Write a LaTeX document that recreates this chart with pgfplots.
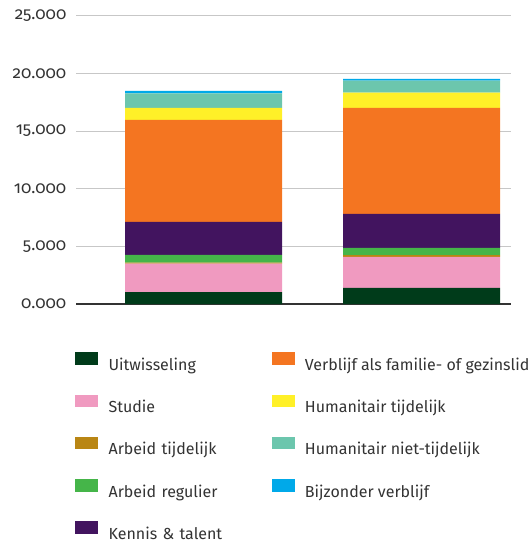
\documentclass[border=0pt]{standalone}
\usepackage{pgfplots}
\pgfplotsset{compat=1.18}
\usepackage{fontspec}
\setmainfont{Fira Sans}
\newfontfamily\tickfont[Numbers=OldStyle]{Fira Sans}
\definecolor{cUit}{RGB}{0,59,26}
\definecolor{cStu}{RGB}{240,154,192}
\definecolor{cArT}{RGB}{185,134,20}
\definecolor{cArR}{RGB}{69,181,73}
\definecolor{cKen}{RGB}{66,20,95}
\definecolor{cVer}{RGB}{244,117,33}
\definecolor{cHuT}{RGB}{255,240,40}
\definecolor{cHuN}{RGB}{108,198,173}
\definecolor{cBij}{RGB}{0,169,233}
\definecolor{txt}{RGB}{51,51,51}
\pgfplotsset{leg/.style={legend image code/.code={\fill[#1] (0bp,2.3bp) rectangle (22bp,14bp);}}}
\begin{document}
\begin{tikzpicture}
\useasboundingbox (0,0) rectangle (531bp,-542bp);
\begin{axis}[
  at={(76bp,-304bp)}, anchor=south west,
  scale only axis, width=435bp, height=288.3bp,
  xmin=-0.585, xmax=1.41, ymin=0, ymax=25000,
  ybar stacked, bar width=157bp,
  xtick=\empty,
  ytick={0,5000,10000,15000,20000,25000},
  yticklabels={0.000,5.000,10.000,15.000,20.000,25.000},
  scaled y ticks=false,
  major tick length=0pt,
  yticklabel style={font=\tickfont\fontsize{17bp}{20bp}\selectfont, text=txt, anchor=east, inner sep=0pt, xshift=-9.5bp},
  /pgf/number format/assume math mode=true,
  axis x line*=bottom, axis y line*=left,
  x axis line style={-, draw=txt, line width=1.3bp},
  y axis line style={draw=none},
  ymajorgrids, grid style={draw=black!22, line width=0.9bp},
  legend columns=2,
  legend cell align=left,
  legend style={draw=none, fill=none, at={(-0.0092,-0.16)}, anchor=north west,
    font=\fontsize{16bp}{19bp}\selectfont, text=txt,
    nodes={inner sep=0pt, text height=12bp, text depth=4bp},
    /tikz/every odd column/.append style={column sep=11bp},
    /tikz/column 2/.append style={text width=163bp},
    row sep=20bp},
]
\addplot[fill=cUit, draw=none, forget plot] coordinates {(0,1040) (1,1390)};
\addplot[fill=cStu, draw=none, forget plot] coordinates {(0,2460) (1,2690)};
\addplot[fill=cArT, draw=none, forget plot] coordinates {(0,80) (1,150)};
\addplot[fill=cArR, draw=none, forget plot] coordinates {(0,670) (1,630)};
\addplot[fill=cKen, draw=none, forget plot] coordinates {(0,2870) (1,2950)};
\addplot[fill=cVer, draw=none, forget plot] coordinates {(0,8850) (1,9200)};
\addplot[fill=cHuT, draw=none, forget plot] coordinates {(0,1030) (1,1310)};
\addplot[fill=cHuN, draw=none, forget plot] coordinates {(0,1260) (1,1040)};
\addplot[fill=cBij, draw=none, forget plot] coordinates {(0,230) (1,170)};
\addlegendimage{leg=cUit}\addlegendentry{Uitwisseling}
\addlegendimage{leg=cVer}\addlegendentry{Verblijf als familie- of gezinslid}
\addlegendimage{leg=cStu}\addlegendentry{Studie}
\addlegendimage{leg=cHuT}\addlegendentry{Humanitair tijdelijk}
\addlegendimage{leg=cArT}\addlegendentry{Arbeid tijdelijk}
\addlegendimage{leg=cHuN}\addlegendentry{Humanitair niet-tijdelijk}
\addlegendimage{leg=cArR}\addlegendentry{Arbeid regulier}
\addlegendimage{leg=cBij}\addlegendentry{Bijzonder verblijf}
\addlegendimage{leg=cKen}\addlegendentry{Kennis \& talent}
\end{axis}
\end{tikzpicture}
\end{document}
